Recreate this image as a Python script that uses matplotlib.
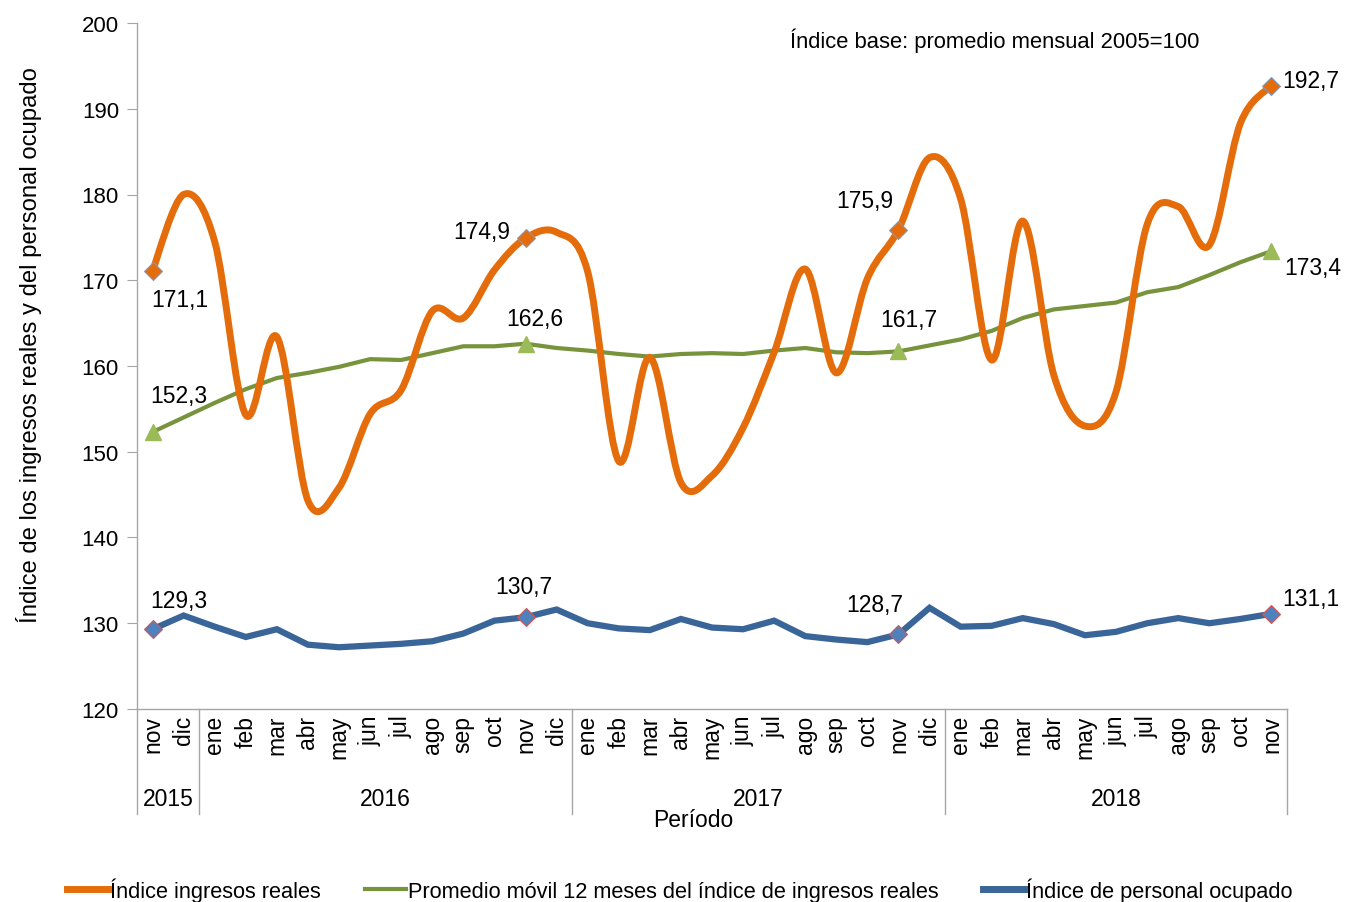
import matplotlib
matplotlib.use("Agg")
import matplotlib.pyplot as plt
from matplotlib.path import Path
from matplotlib.patches import PathPatch
from matplotlib.lines import Line2D
import matplotlib.transforms as mtransforms

plt.rcParams['font.family'] = ['Liberation Sans', 'DejaVu Sans']

months = ["nov", "dic",
          "ene", "feb", "mar", "abr", "may", "jun", "jul", "ago", "sep", "oct", "nov", "dic",
          "ene", "feb", "mar", "abr", "may", "jun", "jul", "ago", "sep", "oct", "nov", "dic",
          "ene", "feb", "mar", "abr", "may", "jun", "jul", "ago", "sep", "oct", "nov"]
years = ["2015", "2016", "2017", "2018"]
year_spans = [(0, 1), (2, 13), (14, 25), (26, 36)]

ingresos = [171.1, 180.0, 174.5, 154.3, 163.4, 144.3, 145.8, 154.4, 157.2, 166.4, 165.6, 171.2,
            174.9, 175.6, 171.0, 148.9, 161.0, 146.4, 147.2, 152.8, 161.6, 171.3, 159.2, 170.2,
            175.9, 184.3, 179.5, 160.7, 176.9, 158.9, 153.0, 157.0, 176.5, 178.6, 174.1, 188.3,
            192.7]
promedio = [152.3, 154.0, 155.7, 157.3, 158.6, 159.2, 159.9, 160.8, 160.7, 161.5, 162.3, 162.3,
            162.6, 162.1, 161.8, 161.4, 161.1, 161.4, 161.5, 161.4, 161.8, 162.1, 161.6, 161.5,
            161.7, 162.4, 163.1, 164.1, 165.6, 166.6, 167.0, 167.4, 168.6, 169.2, 170.6, 172.1,
            173.4]
personal = [129.3, 130.9, 129.6, 128.4, 129.3, 127.5, 127.2, 127.4, 127.6, 127.9, 128.8, 130.3,
            130.7, 131.6, 130.0, 129.4, 129.2, 130.5, 129.5, 129.3, 130.3, 128.5, 128.1, 127.8,
            128.7, 131.8, 129.6, 129.7, 130.6, 129.9, 128.6, 129.0, 130.0, 130.6, 130.0, 130.5,
            131.1]
labeled = [0, 12, 24, 36]

c_orange = "#E46C0A"
c_green = "#77933C"
c_green_mk = "#9BBB59"
c_blue = "#3A6598"
c_blue_mk = "#4F81BD"

fig = plt.figure(figsize=(13.46, 9.03), dpi=100)
ax = fig.add_axes([137 / 1346, 1 - 710 / 903, 1150 / 1346, 686 / 903])

x = list(range(len(months)))

# smoothed orange line (Excel-style bezier through the points)
verts = [(x[0], ingresos[0])]
codes = [Path.MOVETO]
n = len(x)
for i in range(n - 1):
    p0 = (x[max(i - 1, 0)], ingresos[max(i - 1, 0)])
    p1 = (x[i], ingresos[i])
    p2 = (x[i + 1], ingresos[i + 1])
    p3 = (x[min(i + 2, n - 1)], ingresos[min(i + 2, n - 1)])
    c1 = (p1[0] + (p2[0] - p0[0]) / 6, p1[1] + (p2[1] - p0[1]) / 6)
    c2 = (p2[0] - (p3[0] - p1[0]) / 6, p2[1] - (p3[1] - p1[1]) / 6)
    verts += [c1, c2, p2]
    codes += [Path.CURVE4] * 3
ax.add_patch(PathPatch(Path(verts, codes), fill=False, edgecolor=c_orange, lw=5,
                       capstyle='round', joinstyle='round', zorder=3))

ax.plot(x, promedio, color=c_green, lw=3, zorder=2)
ax.plot(x, personal, color=c_blue, lw=4.5, zorder=2, solid_joinstyle='miter')

ax.plot([x[i] for i in labeled], [ingresos[i] for i in labeled], 'D', ms=9,
        mfc=c_orange, mec="#7F9CC0", mew=0.8, zorder=4)
ax.plot([x[i] for i in labeled], [promedio[i] for i in labeled], '^', ms=11,
        mfc=c_green_mk, mec=c_green_mk, zorder=4)
ax.plot([x[i] for i in labeled], [personal[i] for i in labeled], 'D', ms=9,
        mfc=c_blue_mk, mec="#D9534F", mew=0.8, zorder=4)

def fmt(v):
    return f"{v:.1f}".replace(".", ",")

offs_ing = [(27, -29), (-44, 7), (-34, 29), (39, 5)]
offs_pro = [(26, 37), (9, 25), (10, 32), (41, -16)]
offs_per = [(26, 29), (-2, 31), (-24, 30), (39, 15)]
for k, i in enumerate(labeled):
    for series, offs in ((ingresos, offs_ing), (promedio, offs_pro), (personal, offs_per)):
        ax.annotate(fmt(series[i]), (x[i], series[i]), xytext=offs[k],
                    textcoords='offset pixels', ha='center', va='center', fontsize=16.5)

ax.set_xlim(-0.5, len(months) - 0.5)
ax.set_ylim(120, 200)
ax.set_yticks(range(120, 201, 10))
ax.tick_params(axis='y', labelsize=16, length=7, color="#A6A6A6", pad=6)
ax.set_xticks(x)
ax.set_xticklabels(months, rotation=90, fontsize=16.5, va='top')
ax.tick_params(axis='x', length=0, pad=4)
for s in ("top", "right"):
    ax.spines[s].set_visible(False)
for s in ("left", "bottom"):
    ax.spines[s].set_color("#A6A6A6")
    ax.spines[s].set_linewidth(1)

trans = mtransforms.blended_transform_factory(ax.transData, ax.transAxes)
bounds = [-0.5, 1.5, 13.5, 25.5, 36.5]
for b in bounds:
    ax.plot([b, b], [0, -0.153], transform=trans, color="#A6A6A6", lw=1, clip_on=False)
for yr, (a, b) in zip(years, year_spans):
    ax.text((a + b) / 2, -0.131, yr, transform=trans, ha='center', va='center', fontsize=16.5)
ax.text(17.4, -0.161, "Período", transform=trans, ha='center', va='center', fontsize=16.5)

ax.set_ylabel("Índice de los ingresos reales y del personal ocupado", fontsize=17.2)
ax.yaxis.set_label_coords(-0.083, 0.532)

ax.text(0.924, 0.975, "Índice base: promedio mensual 2005=100", transform=ax.transAxes,
        ha='right', va='center', fontsize=15.8)

handles = [Line2D([], [], color=c_orange, lw=5),
           Line2D([], [], color=c_green, lw=3),
           Line2D([], [], color=c_blue, lw=5)]
names = ["Índice ingresos reales",
         "Promedio móvil 12 meses del índice de ingresos reales",
         "Índice de personal ocupado"]
fig.legend(handles, names, loc='center', bbox_to_anchor=(0.505, 0.014), ncol=3,
           frameon=False, fontsize=15.7, handlelength=1.9, handletextpad=0.1,
           columnspacing=2.0)

fig.savefig("out.png", dpi=100)
